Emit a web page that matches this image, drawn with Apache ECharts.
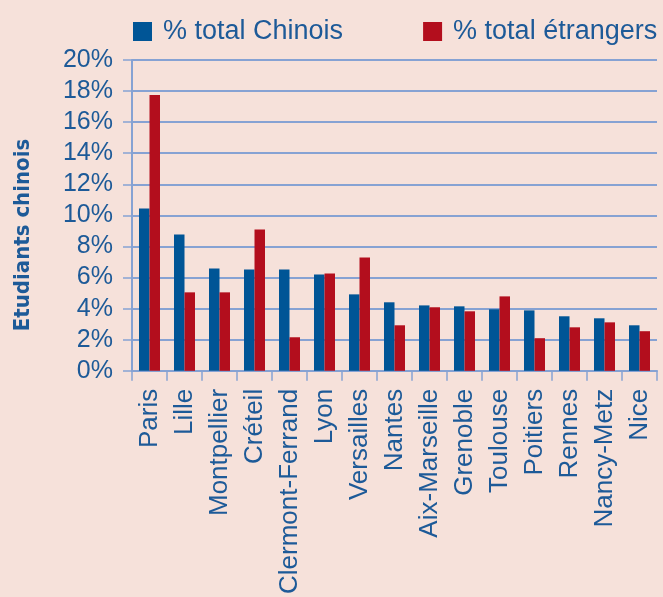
<!DOCTYPE html>
<html>
<head>
<meta charset="utf-8">
<script src="https://cdn.jsdelivr.net/npm/echarts@6/dist/echarts.min.js"></script>
<style>
html,body{margin:0;padding:0;background:#f6e1da;}
#chart{width:663px;height:597px;}
</style>
</head>
<body>
<div id="chart"></div>
<script>
var categories = ['Paris','Lille','Montpellier','Créteil','Clermont-Ferrand','Lyon','Versailles','Nantes','Aix-Marseille','Grenoble','Toulouse','Poitiers','Rennes','Nancy-Metz','Nice'];
var chinois = [10.44, 8.77, 6.59, 6.52, 6.52, 6.20, 4.92, 4.41, 4.21, 4.15, 3.96, 3.89, 3.51, 3.38, 2.93];
var etrangers = [17.75, 5.05, 5.05, 9.09, 2.16, 6.27, 7.29, 2.93, 4.09, 3.83, 4.79, 2.10, 2.80, 3.12, 2.55];
var yTicks = [0, 2, 4, 6, 8, 10, 12, 14, 16, 18, 20];

var textColor = '#1d5a98';
var lineColor = '#86a2d3';
var chart = echarts.init(document.getElementById('chart'));
chart.setOption({
  backgroundColor: '#f6e1da',
  animation: false,
  textStyle: { fontFamily: 'Liberation Sans, Arial, sans-serif' },
  legend: {
    left: 128, top: 13,
    itemWidth: 19, itemHeight: 19, itemGap: 80,
    icon: 'rect',
    textStyle: { color: textColor, fontSize: 27, padding: [0, 0, 0, 6] },
    data: ['% total Chinois', '% total étrangers']
  },
  grid: { left: 132, right: 6, top: 60, bottom: 225, containLabel: false },
  xAxis: {
    type: 'category',
    data: categories,
    axisLine: { lineStyle: { color: lineColor, width: 2 } },
    axisTick: { show: true, length: 10, lineStyle: { color: lineColor, width: 1.5 } },
    axisLabel: { rotate: 90, color: textColor, fontSize: 26, margin: 18 }
  },
  yAxis: {
    type: 'value',
    min: yTicks[0], max: yTicks[yTicks.length - 1], interval: 2,
    axisLine: { show: true, lineStyle: { color: lineColor, width: 2 } },
    axisTick: { show: true, length: 9, lineStyle: { color: lineColor, width: 1.5 } },
    splitLine: { show: true, lineStyle: { color: lineColor, width: 2 } },
    axisLabel: { color: textColor, fontSize: 25, margin: 19, formatter: function (v) { return v + '%'; } }
  },
  graphic: [{
    type: 'text',
    x: 23, y: 235,
    rotation: Math.PI / 2,
    style: {
      text: 'Etudiants chinois',
      fill: textColor,
      font: 'bold 22px "Liberation Sans Narrow", "DejaVu Sans Condensed", Arial, sans-serif',
      align: 'center',
      verticalAlign: 'middle'
    }
  }],
  series: [
    { name: '% total Chinois', type: 'bar', data: chinois, barGap: '0%', barCategoryGap: '40%', itemStyle: { color: '#005596' } },
    { name: '% total étrangers', type: 'bar', data: etrangers, barGap: '0%', barCategoryGap: '40%', itemStyle: { color: '#b30e1d' } }
  ]
});
</script>
</body>
</html>
